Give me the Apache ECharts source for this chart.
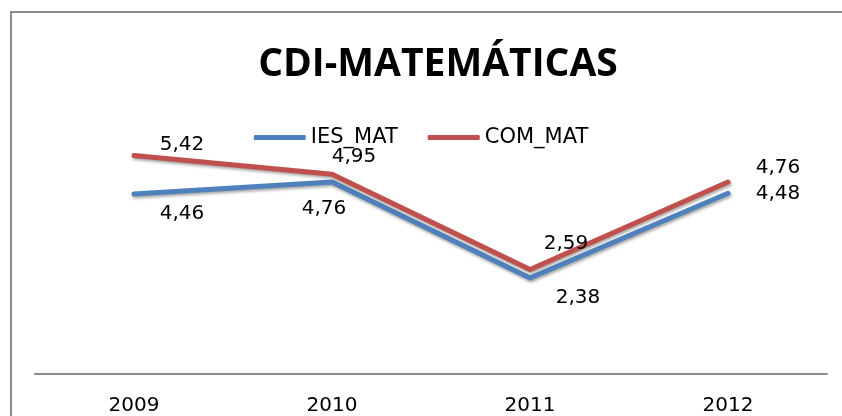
<!DOCTYPE html>
<html>
<head>
<meta charset="utf-8">
<script src="https://cdn.jsdelivr.net/npm/echarts@6/dist/echarts.min.js"></script>
<style>
  html, body { margin: 0; padding: 0; background: #fff; overflow: hidden; }
  #wrap { position: relative; width: 842px; height: 416px; overflow: hidden; }
  #chart { width: 842px; height: 416px; }
  /* borde del área del gráfico: solo se ven los lados izquierdo y superior */
  #frame {
    position: absolute; left: 10px; top: 11px; width: 900px; height: 500px;
    border-left: 2px solid #8c8c8c; border-top: 2px solid #8c8c8c;
    pointer-events: none;
  }
</style>
</head>
<body>
<div id="wrap">
  <div id="chart"></div>
  <div id="frame"></div>
</div>
<script>
// datos del gráfico
const years = ['2009', '2010', '2011', '2012']
const iesMat = [4.46, 4.76, 2.38, 4.48]
const comMat = [5.42, 4.95, 2.59, 4.76]

// desplazamiento de las etiquetas (solo estilo)
const iesOffsets = [[48, 20], [-8, 27], [48, 20], [50, 0]]
const comOffsets = [[48, -11], [22, -18], [36, -26], [50, -14]]

const fontFam = '"DejaVu Sans", sans-serif'

function fmt(v) {
  return v.toFixed(2).replace('.', ',')
}

function buildData(values, offsets) {
  return values.map((v, i) => ({
    value: v,
    label: { offset: offsets[i] }
  }))
}

function lineSeries(name, values, offsets, color) {
  return {
    name: name,
    type: 'line',
    data: buildData(values, offsets),
    symbol: 'circle',
    symbolSize: 0,
    showSymbol: true,
    lineStyle: {
      width: 5,
      color: color,
      cap: 'round',
      join: 'round',
      shadowColor: 'rgba(0,0,0,0.35)',
      shadowBlur: 3,
      shadowOffsetX: 1,
      shadowOffsetY: 2
    },
    itemStyle: { color: color },
    label: {
      show: true,
      position: 'inside',
      color: '#000',
      fontSize: 20,
      fontFamily: fontFam,
      formatter: p => fmt(p.value)
    },
    emphasis: { disabled: true }
  }
}

const chart = echarts.init(document.getElementById('chart'))
chart.setOption({
  backgroundColor: '#fff',
  animation: false,
  title: {
    text: 'CDI-MATEMÁTICAS',
    left: 433,
    top: 40,
    textAlign: 'center',
    textStyle: {
      fontFamily: '"Open Sans", sans-serif',
      fontWeight: 'bold',
      fontSize: 39,
      color: '#000'
    }
  },
  legend: {
    top: 122,
    left: 'center',
    itemWidth: 52,
    itemHeight: 5,
    itemGap: 30,
    icon: 'roundRect',
    textStyle: { fontFamily: fontFam, fontSize: 21, color: '#000' },
    data: ['IES_MAT', 'COM_MAT']
  },
  grid: { left: 35, top: 132, width: 792, height: 242 },
  xAxis: {
    type: 'category',
    data: years,
    axisLine: { lineStyle: { color: '#8c8c8c', width: 2 } },
    axisTick: { show: false },
    axisLabel: {
      color: '#000',
      fontSize: 20,
      fontFamily: fontFam,
      margin: 22
    }
  },
  yAxis: {
    type: 'value',
    min: 0,
    max: 6,
    show: false
  },
  series: [
    lineSeries('IES_MAT', iesMat, iesOffsets, '#4F81BD'),
    lineSeries('COM_MAT', comMat, comOffsets, '#C0504D')
  ]
})
</script>
</body>
</html>
